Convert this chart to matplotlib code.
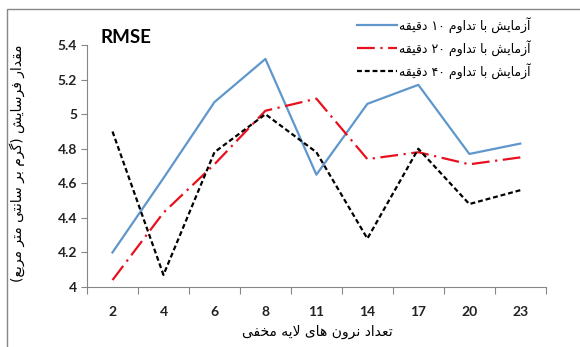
import matplotlib
matplotlib.use('Agg')
import matplotlib.pyplot as plt
from matplotlib.patches import Rectangle

# داده ها
neurons = ['2', '4', '6', '8', '11', '14', '17', '20', '23']
rmse_10 = [4.20, 4.63, 5.07, 5.32, 4.65, 5.06, 5.17, 4.77, 4.83]
rmse_20 = [4.04, 4.43, 4.71, 5.02, 5.09, 4.74, 4.78, 4.71, 4.75]
rmse_40 = [4.90, 4.07, 4.78, 5.00, 4.78, 4.28, 4.80, 4.48, 4.56]
y_ticks = [4.0, 4.2, 4.4, 4.6, 4.8, 5.0, 5.2, 5.4]

legend_labels = ['آزمایش با تداوم ۱۰ دقیقه',
                 'آزمایش با تداوم ۲۰ دقیقه',
                 'آزمایش با تداوم ۴۰ دقیقه']
x_label = 'تعداد نرون های لایه مخفی'
y_label = 'مقدار فرسایش (گرم بر سانتی متر مربع)'
title = 'RMSE'

# isolated, final, initial, medial
FORMS = {
    'ا': ('\uFE8D', '\uFE8E', None, None),
    'آ': ('\uFE81', '\uFE82', None, None),
    'د': ('\uFEA9', '\uFEAA', None, None),
    'ر': ('\uFEAD', '\uFEAE', None, None),
    'ز': ('\uFEAF', '\uFEB0', None, None),
    'و': ('\uFEED', '\uFEEE', None, None),
    'ب': ('\uFE8F', '\uFE90', '\uFE91', '\uFE92'),
    'ت': ('\uFE95', '\uFE96', '\uFE97', '\uFE98'),
    'خ': ('\uFEA5', '\uFEA6', '\uFEA7', '\uFEA8'),
    'س': ('\uFEB1', '\uFEB2', '\uFEB3', '\uFEB4'),
    'ش': ('\uFEB5', '\uFEB6', '\uFEB7', '\uFEB8'),
    'ع': ('\uFEC9', '\uFECA', '\uFECB', '\uFECC'),
    'ف': ('\uFED1', '\uFED2', '\uFED3', '\uFED4'),
    'ق': ('\uFED5', '\uFED6', '\uFED7', '\uFED8'),
    'ل': ('\uFEDD', '\uFEDE', '\uFEDF', '\uFEE0'),
    'م': ('\uFEE1', '\uFEE2', '\uFEE3', '\uFEE4'),
    'ن': ('\uFEE5', '\uFEE6', '\uFEE7', '\uFEE8'),
    'ه': ('\uFEE9', '\uFEEA', '\uFEEB', '\uFEEC'),
    'ی': ('\uFBFC', '\uFBFD', '\uFBFE', '\uFBFF'),
    'گ': ('\uFB92', '\uFB93', '\uFB94', '\uFB95'),
}
LAM_ALEF = {'ا': ('\uFEFB', '\uFEFC'), 'آ': ('\uFEF5', '\uFEF6')}
DIGITS = '0123456789۰۱۲۳۴۵۶۷۸۹.'


def shape(text):
    """حروف را به شکل متصل در می آورد و ترتیب نمایش را راست به چپ می کند"""
    out = []
    i = 0
    n = len(text)
    while i < n:
        c = text[i]
        prev = text[i - 1] if i > 0 else ''
        nxt = text[i + 1] if i + 1 < n else ''
        link_prev = prev in FORMS and FORMS[prev][2] is not None
        if c not in FORMS:
            out.append(c)
            i += 1
            continue
        if c == 'ل' and nxt in LAM_ALEF:
            out.append(LAM_ALEF[nxt][1 if link_prev else 0])
            i += 2
            continue
        f = FORMS[c]
        link_next = f[2] is not None and nxt in FORMS
        if link_prev and link_next:
            out.append(f[3])
        elif link_prev:
            out.append(f[1])
        elif link_next:
            out.append(f[2])
        else:
            out.append(f[0])
        i += 1
    # ترتیب نمایش
    runs = []
    for ch in out:
        if ch in DIGITS and runs and runs[-1][0] in DIGITS:
            runs[-1] += ch
        else:
            runs.append(ch)
    res = ''.join(reversed(runs))
    return res.translate(str.maketrans('()', ')('))


plt.rcParams['font.family'] = ['DejaVu Sans']

fig = plt.figure(figsize=(5.8, 3.47), dpi=100)
fig.patches.append(Rectangle((7 / 580, -0.1), 2, 1 - 9 / 347 + 0.1,
                             transform=fig.transFigure, fill=False,
                             edgecolor='#888888', linewidth=1.0))
ax = fig.add_axes([0.150, 0.173, 0.791, 0.697])

x = list(range(len(neurons)))
ax.plot(x, rmse_10, color='#5f97cc', linewidth=1.6, label=shape(legend_labels[0]))
ax.plot(x, rmse_20, color='#e8101e', linewidth=1.6, dashes=(8, 2.5, 1, 2.5),
        label=shape(legend_labels[1]))
ax.plot(x, rmse_40, color='black', linewidth=1.6, dashes=(2.2, 1.3),
        label=shape(legend_labels[2]))

ax.set_xlim(-0.5, len(neurons) - 0.5)
ax.set_ylim(4.0, 5.4)
ax.set_yticks(y_ticks)
ax.set_yticklabels(['%g' % v for v in y_ticks], fontfamily='Lato',
                   fontweight='bold', fontsize=10, color='#222222')
ax.set_xticks([v - 0.5 for v in range(len(neurons) + 1)])
ax.set_xticklabels([])
ax.set_xticks(x, minor=True)
ax.set_xticklabels(neurons, minor=True, fontfamily='Lato',
                   fontweight='bold', fontsize=10, color='#222222')
ax.tick_params(axis='x', which='major', length=5, color='#868686', width=0.8)
ax.tick_params(axis='x', which='minor', length=0, pad=14)
ax.tick_params(axis='y', length=4, color='#868686', width=0.8, pad=3)

for s in ['top', 'right']:
    ax.spines[s].set_visible(False)
for s in ['left', 'bottom']:
    ax.spines[s].set_color('#868686')
    ax.spines[s].set_linewidth(0.8)

ax.text(0.03, 1.03, title, transform=ax.transAxes, fontfamily='Lato',
        fontweight='bold', fontsize=13.5, va='center', ha='left')

fig.text(0.547, 0.043, shape(x_label), fontsize=10, ha='center', va='center')
fig.text(0.030, 0.53, shape(y_label), fontsize=10, ha='center', va='center',
         rotation=90)

leg = ax.legend(loc='upper left', bbox_to_anchor=(357 / 580, 1 - 17 / 347),
                bbox_transform=fig.transFigure, frameon=False,
                fontsize=9, handlelength=3.2, handletextpad=0.15,
                labelspacing=0.55, borderpad=0, borderaxespad=0)

fig.savefig('out.png', dpi=100)
